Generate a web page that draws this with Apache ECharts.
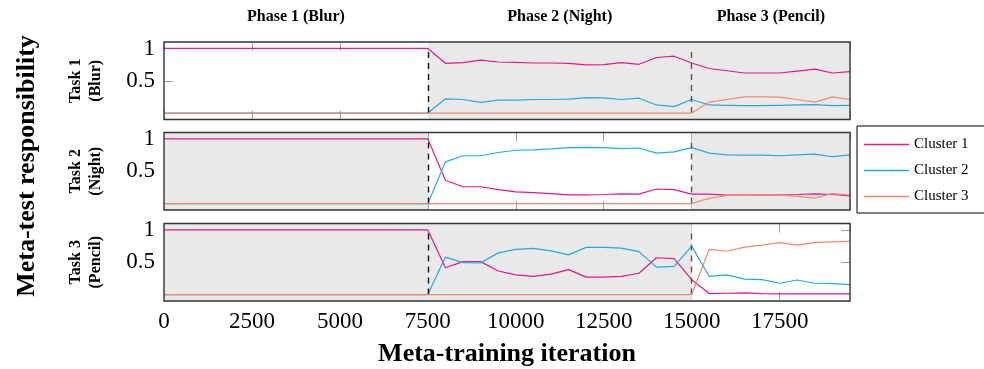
<!DOCTYPE html>
<html>
<head>
<meta charset="utf-8">
<script src="https://cdn.jsdelivr.net/npm/echarts@6/dist/echarts.min.js"></script>
<style>
  html, body { margin: 0; padding: 0; background: #fff; }
  #chart { width: 984px; height: 369px; }
</style>
</head>
<body>
<div id="chart"></div>
<script>
// meta-training iteration at which each responsibility was logged
const iterations = [0, 7500, 8000, 8500, 9000, 9500, 10000, 10500, 11000, 11500, 12000, 12500, 13000,
  13500, 14000, 14500, 15000, 15500, 16000, 16500, 17000, 17500, 18000, 18500, 19000, 19500];

const clusterNames = ['Cluster 1', 'Cluster 2', 'Cluster 3'];
const phaseNames = ['Phase 1 (Blur)', 'Phase 2 (Night)', 'Phase 3 (Pencil)'];
const phaseEdges = [0, 7500, 15000, 19500];
const taskNames = ['Task 1\n(Blur)', 'Task 2\n(Night)', 'Task 3\n(Pencil)'];
const yTickValues = [0.5, 1];

// Task 1 (Blur)
const blurCluster1 = [1, 1, 0.77, 0.78, 0.82, 0.79, 0.785, 0.775, 0.775, 0.77, 0.745, 0.75, 0.78,
  0.755, 0.86, 0.88, 0.775, 0.69, 0.655, 0.62, 0.62, 0.62, 0.65, 0.68, 0.62, 0.64];
const blurCluster2 = [0, 0, 0.22, 0.21, 0.165, 0.2, 0.2, 0.21, 0.21, 0.215, 0.24, 0.235, 0.21,
  0.23, 0.125, 0.1, 0.21, 0.125, 0.12, 0.115, 0.115, 0.12, 0.125, 0.13, 0.115, 0.12];
const blurCluster3 = [0, 0, 0, 0, 0, 0, 0, 0, 0, 0, 0, 0, 0,
  0, 0, 0, 0, 0.17, 0.21, 0.25, 0.25, 0.245, 0.21, 0.17, 0.25, 0.21];

// Task 2 (Night)
const nightCluster1 = [1, 1, 0.36, 0.26, 0.26, 0.215, 0.18, 0.17, 0.155, 0.135, 0.135, 0.14, 0.15,
  0.145, 0.225, 0.215, 0.145, 0.145, 0.13, 0.13, 0.13, 0.135, 0.14, 0.15, 0.14, 0.12];
const nightCluster2 = [0, 0, 0.645, 0.74, 0.74, 0.79, 0.825, 0.83, 0.845, 0.865, 0.87, 0.865, 0.85,
  0.86, 0.78, 0.8, 0.865, 0.78, 0.755, 0.75, 0.75, 0.74, 0.755, 0.765, 0.725, 0.755];
const nightCluster3 = [0, 0, 0, 0, 0, 0, 0, 0, 0, 0, 0, 0, 0,
  0, 0, 0, 0, 0.08, 0.125, 0.125, 0.13, 0.135, 0.11, 0.085, 0.155, 0.13];

// Task 3 (Pencil)
const pencilCluster1 = [1, 1, 0.415, 0.51, 0.51, 0.365, 0.305, 0.28, 0.315, 0.385, 0.27, 0.27, 0.28,
  0.33, 0.57, 0.555, 0.23, 0.015, 0.02, 0.025, 0.015, 0.01, 0.01, 0.01, 0.01, 0.01];
const pencilCluster2 = [0, 0, 0.58, 0.495, 0.49, 0.645, 0.7, 0.715, 0.675, 0.615, 0.73, 0.73, 0.72,
  0.665, 0.425, 0.435, 0.75, 0.28, 0.305, 0.24, 0.23, 0.175, 0.225, 0.175, 0.17, 0.155];
const pencilCluster3 = [0, 0, 0, 0, 0, 0, 0, 0, 0, 0, 0, 0, 0,
  0, 0, 0, 0, 0.7, 0.67, 0.735, 0.765, 0.805, 0.765, 0.805, 0.815, 0.825];

// grey background = phases where the task is not the current one
const shadedRanges = [
  [[7500, 19500]],
  [[0, 7500], [15000, 19500]],
  [[0, 15000]]
];
const dashedAt = [7500, 15000];

const panels = [
  [blurCluster1, blurCluster2, blurCluster3],
  [nightCluster1, nightCluster2, nightCluster3],
  [pencilCluster1, pencilCluster2, pencilCluster3]
];

const colors = ['#ea168b', '#22aae6', '#f6886a'];
const serif = '"Liberation Serif", "Times New Roman", serif';
const plotLeft = 164, plotRight = 134, panelH = 77.5;
const panelTops = [42, 132.5, 223.5];

const chart = echarts.init(document.getElementById('chart'));

const grid = panelTops.map(t => ({ left: plotLeft, right: plotRight, top: t, height: panelH }));

const tickStyle = { show: true, inside: true, length: 9, lineStyle: { color: '#a0a0a0', width: 1 } };

const xAxis = [];
['bottom', 'top'].forEach(pos => {
  panelTops.forEach((t, i) => {
    xAxis.push({
      type: 'value', gridIndex: i, position: pos,
      min: 0, max: 19500, interval: 2500,
      axisLine: { show: false, onZero: false },
      axisTick: tickStyle,
      splitLine: { show: false },
      axisLabel: {
        show: pos === 'bottom' && i === 2,
        showMaxLabel: false,
        margin: 9,
        color: '#000', fontFamily: serif, fontSize: 23,
        formatter: v => String(v)
      }
    });
  });
});

const yAxis = [];
['left', 'right'].forEach(pos => {
  panelTops.forEach((t, i) => {
    yAxis.push({
      type: 'value', gridIndex: i, position: pos,
      min: -0.1, max: 1.1,
      axisLine: { show: false, onZero: false },
      axisTick: Object.assign({}, tickStyle, { customValues: yTickValues }),
      splitLine: { show: false },
      axisLabel: {
        show: pos === 'left',
        customValues: yTickValues,
        margin: 9,
        color: '#000', fontFamily: serif, fontSize: 23,
        formatter: v => String(v)
      }
    });
  });
});

const series = [];
panels.forEach((panel, i) => {
  panel.forEach((vals, k) => {
    const s = {
      type: 'line', name: clusterNames[k],
      xAxisIndex: i, yAxisIndex: i,
      data: iterations.map((x, j) => [x, vals[j]]),
      symbol: 'none',
      color: colors[k],
      lineStyle: { width: 1.2, color: colors[k] },
      z: 3 + k
    };
    if (k === 0) {
      s.markArea = {
        silent: true,
        itemStyle: { color: '#e9e9e9' },
        data: shadedRanges[i].map(r => [{ xAxis: r[0] }, { xAxis: r[1] }])
      };
      s.markLine = {
        silent: true,
        symbol: ['none', 'none'],
        label: { show: false },
        lineStyle: { type: [6, 5], color: '#111', width: 1.4 },
        data: dashedAt.map((x, d) => [
          { coord: [x, 0], lineStyle: { color: d === 0 ? '#111' : '#555' } },
          { coord: [x, 1] }
        ])
      };
    }
    series.push(s);
  });
});

chart.setOption({
  animation: false,
  backgroundColor: '#fff',
  grid: grid,
  xAxis: xAxis,
  yAxis: yAxis,
  legend: {
    data: clusterNames,
    orient: 'vertical',
    left: 857, top: 126,
    icon: 'rect',
    itemWidth: 45, itemHeight: 1.5, itemGap: 11,
    padding: [11, 40, 9, 7],
    borderColor: '#000', borderWidth: 1,
    textStyle: { color: '#000', fontFamily: serif, fontSize: 15 }
  },
  series: series
});

// titles, task labels and panel frames, placed from the axes
const graphic = [];
phaseNames.forEach((name, p) => {
  const mid = (phaseEdges[p] + phaseEdges[p + 1]) / 2;
  const px = chart.convertToPixel({ xAxisIndex: 0 }, mid);
  graphic.push({
    type: 'text', x: px, y: 17,
    style: { text: name, font: 'bold 16px ' + serif, fill: '#000', align: 'center', verticalAlign: 'middle' }
  });
});
panelTops.forEach((t, i) => {
  graphic.push({
    type: 'text', x: 86, y: t + panelH / 2, rotation: Math.PI / 2,
    style: { text: taskNames[i], font: 'bold 16px ' + serif, lineHeight: 20, fill: '#000', align: 'center', verticalAlign: 'middle' }
  });
  graphic.push({
    type: 'rect', z: 100, silent: true,
    shape: { x: plotLeft, y: t, width: 984 - plotLeft - plotRight, height: panelH },
    style: { fill: 'none', stroke: '#333', lineWidth: 1.4 }
  });
});
graphic.push({
  type: 'text', x: 27, y: 166, rotation: Math.PI / 2,
  style: { text: 'Meta-test responsibility', font: 'bold 26px ' + serif, fill: '#000', align: 'center', verticalAlign: 'middle' }
});
graphic.push({
  type: 'text', x: plotLeft + (984 - plotLeft - plotRight) / 2, y: 354,
  style: { text: 'Meta-training iteration', font: 'bold 26px ' + serif, fill: '#000', align: 'center', verticalAlign: 'middle' }
});
chart.setOption({ graphic: graphic });
</script>
</body>
</html>
